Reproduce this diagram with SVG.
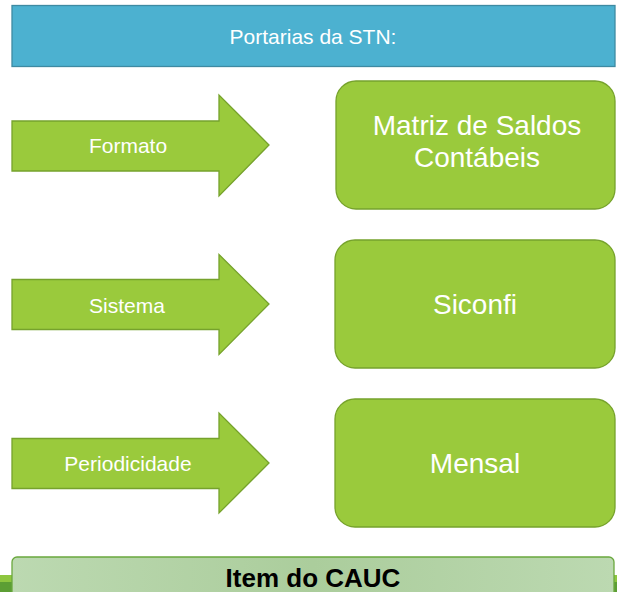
<svg xmlns="http://www.w3.org/2000/svg" width="617" height="592" viewBox="0 0 617 592">
<defs>
<style>
.arrow{fill:#9aca3c;stroke:#76a22c;stroke-width:1.3}
.box{fill:#9aca3c;stroke:#76a22c;stroke-width:1.3}
.lbl{font-family:"Liberation Sans",Arial,sans-serif;font-size:21px;fill:#ffffff;text-anchor:middle}
.big{font-family:"Liberation Sans",Arial,sans-serif;font-size:28px;fill:#ffffff;text-anchor:middle}
</style>
<linearGradient id="barg" x1="0" y1="0" x2="1" y2="0">
<stop offset="0" stop-color="#bcd9b1"/>
<stop offset="0.5" stop-color="#abcd9c"/>
<stop offset="1" stop-color="#bcd9b1"/>
</linearGradient>
</defs>
<rect width="617" height="592" fill="#ffffff"/>
<g id="banner">
<rect x="12" y="5.5" width="603" height="61" fill="#4cb1d0" stroke="#3e8aa2" stroke-width="1.3"/>
<text x="313" y="44" class="lbl">Portarias da STN:</text>
</g>
<g id="connectors">
<g id="arrow-formato">
<polygon class="arrow" points="12,121 219,121 219,95 269,145 219,196 219,171 12,171"/>
<text x="128" y="153" class="lbl">Formato</text>
</g>
<g id="arrow-sistema">
<polygon class="arrow" points="12,279.5 219,279.5 219,254.5 269,304 219,354.5 219,329.5 12,329.5"/>
<text x="127" y="312.5" class="lbl">Sistema</text>
</g>
<g id="arrow-periodicidade">
<polygon class="arrow" points="12,438.5 219,438.5 219,413 269,463 219,513 219,488.5 12,488.5"/>
<text x="128" y="471" class="lbl">Periodicidade</text>
</g>
</g>
<g id="node-matriz">
<rect class="box" x="336" y="81" width="279" height="128" rx="20" ry="20"/>
<text x="477" y="135" class="big">Matriz de Saldos</text>
<text x="477" y="167" class="big">Contábeis</text>
</g>
<g id="node-siconfi">
<rect class="box" x="335" y="240" width="280" height="128" rx="20" ry="20"/>
<text x="475" y="314" class="big">Siconfi</text>
</g>
<g id="node-mensal">
<rect class="box" x="335" y="399" width="280" height="128" rx="20" ry="20"/>
<text x="475" y="473" class="big">Mensal</text>
</g>
<g id="bottom-bar">
<rect x="0" y="575" width="617" height="7" fill="#8ec63f"/>
<rect x="0" y="582" width="617" height="10" fill="#5c9e34"/>
<rect x="12" y="557" width="602" height="45" rx="5" ry="5" fill="url(#barg)" stroke="#6aa83e" stroke-width="1.3"/>
<text x="313" y="587" font-family="'Liberation Sans',Arial,sans-serif" font-size="26" font-weight="bold" fill="#000000" text-anchor="middle">Item do CAUC</text>
</g>
</svg>
